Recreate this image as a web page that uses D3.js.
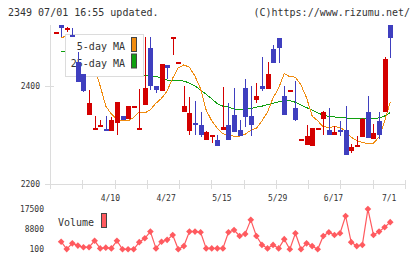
<!DOCTYPE html>
<html>
<head>
<meta charset="utf-8">
<script src="https://cdn.jsdelivr.net/npm/d3@7"></script>
<style>
  body { margin: 0; background: #fff; }
  svg { display: block; }
  text { font-family: 'DejaVu Sans Mono', monospace; fill: #333; }
</style>
</head>
<body>
<div id="app"></div>
<script>
const dateLabels = ['4/10', '4/27', '5/15', '5/29', '6/17', '7/1'];
const dateLabelIndex = [10, 20, 30, 40, 50, 60];
const priceTicks = [2200, 2400];
const volumeTicks = [100, 8800, 17500];

const opens = [
  2510, 2524, 2518, 2504, 2449, 2424, 2340, 2314, 2320, 2312,
  2309, 2325, 2338, 2332, 2359, 2310, 2362, 2477, 2399, 2389,
  2443, 2498, 2449, 2347, 2309, 2325, 2320, 2291, 2299, 2290,
  2311, 2321, 2341, 2310, 2395, 2339, 2371, 2400, 2394, 2475,
  2497, 2380, 2391, 2355, 2292, 2280, 2278, 2314, 2333, 2311,
  2300, 2311, 2311, 2268, 2278, 2296, 2348, 2293, 2328, 2347,
  2525
];
const highs = [
  2510, 2524, 2520, 2518, 2470, 2424, 2392, 2339, 2331, 2338,
  2337, 2368, 2338, 2360, 2359, 2394, 2500, 2500, 2399, 2445,
  2443, 2500, 2449, 2399, 2378, 2369, 2347, 2308, 2300, 2301,
  2398, 2365, 2395, 2331, 2414, 2400, 2407, 2460, 2449, 2483,
  2497, 2400, 2391, 2410, 2292, 2321, 2314, 2314, 2350, 2355,
  2319, 2328, 2359, 2282, 2298, 2334, 2380, 2323, 2348, 2459,
  2525
];
const lows = [
  2510, 2499, 2509, 2499, 2409, 2388, 2340, 2311, 2319, 2310,
  2309, 2300, 2331, 2332, 2359, 2310, 2362, 2392, 2385, 2389,
  2414, 2464, 2449, 2347, 2300, 2300, 2296, 2291, 2284, 2278,
  2311, 2291, 2306, 2298, 2317, 2298, 2365, 2390, 2394, 2447,
  2447, 2342, 2391, 2329, 2292, 2280, 2278, 2314, 2300, 2300,
  2300, 2298, 2259, 2264, 2278, 2296, 2294, 2293, 2293, 2347,
  2457
];
const closes = [
  2510, 2519, 2519, 2499, 2409, 2390, 2366, 2315, 2321, 2311,
  2331, 2368, 2331, 2359, 2359, 2315, 2396, 2399, 2391, 2445,
  2437, 2499, 2449, 2360, 2345, 2320, 2300, 2306, 2300, 2278,
  2317, 2291, 2306, 2298, 2337, 2321, 2380, 2394, 2424, 2447,
  2478, 2342, 2391, 2331, 2292, 2298, 2314, 2314, 2347, 2300,
  2306, 2308, 2259, 2276, 2279, 2333, 2294, 2304, 2300, 2455,
  2498
];

// moving averages and volume (no value under the first candle)
const ma5 = [
  null, 2498, 2502, 2502, 2500, 2492, 2467, 2437, 2400, 2359,
  2343, 2332, 2329, 2329, 2336, 2347, 2345, 2352, 2365, 2375,
  2390, 2416, 2437, 2443, 2438, 2420, 2394, 2351, 2329, 2314,
  2303, 2300, 2298, 2298, 2302, 2310, 2314, 2329, 2347, 2376,
  2396, 2425, 2419, 2418, 2402, 2376, 2339, 2329, 2317, 2316,
  2317, 2316, 2308, 2296, 2289, 2285, 2283, 2284, 2296, 2329,
  2367
];
const ma25 = [
  null, 2471, 2469, 2467, 2465, 2461, 2457, 2453, 2449, 2445,
  2441, 2437, 2433, 2428, 2425, 2422, 2422, 2421, 2419, 2417,
  2412, 2411, 2411, 2410, 2406, 2400, 2392, 2383, 2374, 2364,
  2359, 2357, 2353, 2353, 2353, 2354, 2357, 2359, 2362, 2365,
  2368, 2370, 2370, 2367, 2361, 2356, 2351, 2345, 2341, 2338,
  2337, 2336, 2335, 2333, 2333, 2333, 2333, 2334, 2335, 2339,
  2346
];
const volumes = [
  null, 3400, 200, 2700, 1700, 1000, 1000, 3800, 500, 800,
  500, 3800, 100, 100, 100, 3200, 4900, 7800, 500, 3400,
  4200, 6300, 100, 1500, 7800, 7800, 7500, 500, 500, 500,
  500, 7500, 8500, 5900, 6800, 12900, 5900, 2000, 500, 2000,
  500, 4500, 100, 7100, 100, 2700, 1500, 100, 5900, 7500,
  6300, 7100, 14600, 3200, 1500, 2000, 17600, 6300, 7800, 9700,
  11900
];

const width = 420;
const height = 259;
const upColor = '#d40000';
const downColor = '#3f3fbf';
const ma5Color = '#f08c10';
const ma25Color = '#10a010';
const volColor = '#ff5a5f';
const axisColor = '#dcdcdc';

const idx = d3.range(closes.length);

const x = d3.scaleLinear().domain([-1, 62.65]).range([50, 405]);
const y = d3.scaleLinear().domain([2200, 2400]).range([184.3, 86]);
const yVol = d3.scaleLinear().domain([100, 17500]).range([249.3, 209.3]);

const svg = d3.select('#app').append('svg')
  .attr('width', width)
  .attr('height', height);

// header
svg.append('text')
  .attr('x', 8)
  .attr('y', 16)
  .style('font-size', '10px')
  .text('2349 07/01 16:55 updated.');

svg.append('text')
  .attr('x', 410)
  .attr('y', 16)
  .attr('text-anchor', 'end')
  .style('font-size', '10px')
  .text('(C)https://www.rizumu.net/');

// axes
const axes = svg.append('g')
  .attr('stroke', axisColor)
  .attr('shape-rendering', 'crispEdges');

axes.append('line')
  .attr('x1', 50.5).attr('x2', 50.5)
  .attr('y1', 25).attr('y2', 189);

axes.append('line')
  .attr('x1', 50).attr('x2', 405)
  .attr('y1', Math.round(y(2200)) + 0.5).attr('y2', Math.round(y(2200)) + 0.5);

const xTickPos = d3.scaleLinear().domain([0, 11]).range([50, 405]);
axes.selectAll('.xtick')
  .data(d3.range(1, 12))
  .enter().append('line')
  .attr('x1', d => Math.round(xTickPos(d)) + 0.5)
  .attr('x2', d => Math.round(xTickPos(d)) + 0.5)
  .attr('y1', 180)
  .attr('y2', 189);

axes.selectAll('.ytick')
  .data(priceTicks)
  .enter().append('line')
  .attr('x1', 45).attr('x2', 54)
  .attr('y1', d => Math.round(y(d)) + 0.5)
  .attr('y2', d => Math.round(y(d)) + 0.5);

svg.append('g')
  .selectAll('text')
  .data(priceTicks)
  .enter().append('text')
  .attr('x', 40)
  .attr('y', d => y(d) + 3)
  .attr('text-anchor', 'end')
  .style('font-size', '8px')
  .text(d => d);

svg.append('g')
  .selectAll('text')
  .data(dateLabels)
  .enter().append('text')
  .attr('x', (d, i) => x(dateLabelIndex[i]) - 1)
  .attr('y', 201)
  .attr('text-anchor', 'middle')
  .style('font-size', '8px')
  .text(d => d);

// moving averages
const maLine = values => d3.line()
  .defined(i => values[i] != null)
  .x(i => x(i))
  .y(i => y(values[i]));

svg.append('path')
  .attr('d', maLine(ma25)(idx))
  .attr('fill', 'none')
  .attr('stroke', ma25Color)
  .attr('stroke-width', 1)
  .attr('shape-rendering', 'crispEdges');

svg.append('path')
  .attr('d', maLine(ma5)(idx))
  .attr('fill', 'none')
  .attr('stroke', ma5Color)
  .attr('stroke-width', 1)
  .attr('shape-rendering', 'crispEdges');

// legend box sits over the lines but under the candles
const legend = svg.append('g');
legend.append('rect')
  .attr('x', 65.5).attr('y', 34.5)
  .attr('width', 78).attr('height', 42)
  .attr('fill', '#fff')
  .attr('stroke', axisColor);

const legendItems = [['5-day MA', ma5Color], ['25-day MA', ma25Color]];
legend.selectAll('text')
  .data(legendItems)
  .enter().append('text')
  .attr('x', 125)
  .attr('y', (d, i) => 50 + i * 16.5)
  .attr('text-anchor', 'end')
  .style('font-size', '10px')
  .text(d => d[0]);

legend.selectAll('.sw')
  .data(legendItems)
  .enter().append('rect')
  .attr('x', 131.5)
  .attr('y', (d, i) => 37.5 + i * 16.5)
  .attr('width', 5)
  .attr('height', 14)
  .attr('fill', d => d[1])
  .attr('stroke', '#444');

// candles
const candle = svg.append('g')
  .attr('shape-rendering', 'crispEdges')
  .selectAll('g')
  .data(idx)
  .enter().append('g');

candle.append('line')
  .attr('x1', i => Math.round(x(i)) + 0.5)
  .attr('x2', i => Math.round(x(i)) + 0.5)
  .attr('y1', i => y(highs[i]))
  .attr('y2', i => y(lows[i]))
  .attr('stroke', i => closes[i] >= opens[i] ? upColor : downColor);

candle.append('rect')
  .attr('x', i => Math.round(x(i)) - 2)
  .attr('y', i => y(Math.max(opens[i], closes[i])))
  .attr('width', 5)
  .attr('height', i => Math.max(2, y(Math.min(opens[i], closes[i])) - y(Math.max(opens[i], closes[i]))))
  .attr('fill', i => closes[i] >= opens[i] ? upColor : downColor);

// volume panel
svg.append('g')
  .selectAll('text')
  .data(volumeTicks)
  .enter().append('text')
  .attr('x', 44)
  .attr('y', d => yVol(d) + 3)
  .attr('text-anchor', 'end')
  .style('font-size', '8px')
  .text(d => d);

svg.append('text')
  .attr('x', 58)
  .attr('y', 226)
  .style('font-size', '10px')
  .text('Volume');

svg.append('rect')
  .attr('x', 101.5).attr('y', 213.5)
  .attr('width', 5).attr('height', 14)
  .attr('fill', volColor)
  .attr('stroke', '#444');

const volIdx = idx.filter(i => volumes[i] != null);

svg.append('path')
  .attr('d', d3.line().x(i => x(i)).y(i => yVol(volumes[i]))(volIdx))
  .attr('fill', 'none')
  .attr('stroke', volColor)
  .attr('stroke-width', 1.2);

svg.append('g')
  .selectAll('path')
  .data(volIdx)
  .enter().append('path')
  .attr('d', d3.symbol(d3.symbolSquare, 22))
  .attr('transform', i => `translate(${x(i)},${yVol(volumes[i])}) rotate(45)`)
  .attr('fill', volColor);
</script>
</body>
</html>
